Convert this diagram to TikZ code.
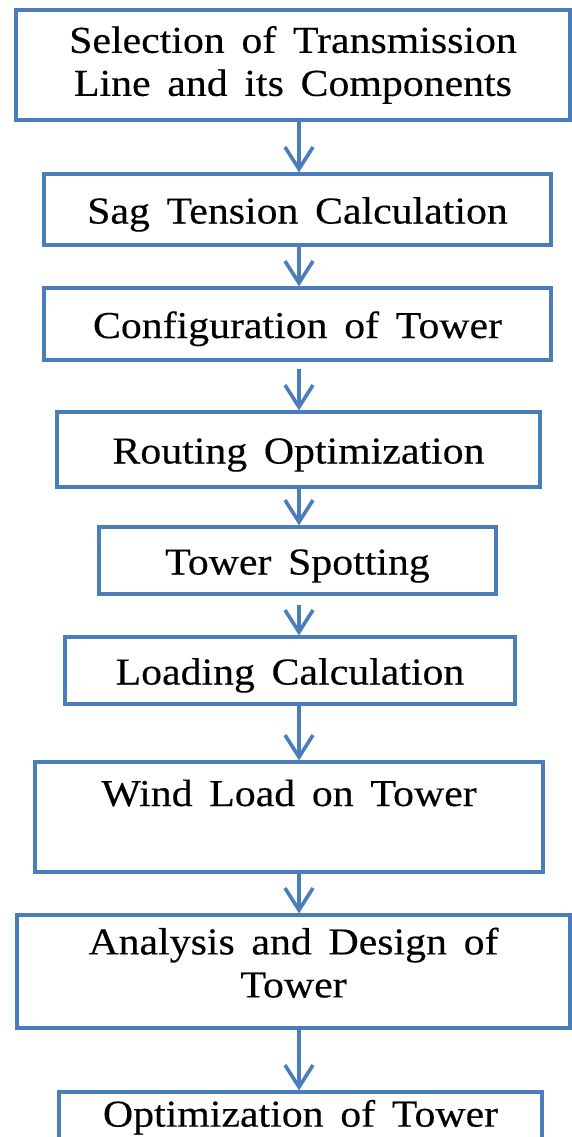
\documentclass[tikz,border=0pt]{standalone}
\usepackage{fontspec}
\setmainfont{Liberation Serif}[FakeStretch=1.1,WordSpace=1.6,FakeBold=0.3]
\usetikzlibrary{arrows.meta}
\definecolor{lineblue}{HTML}{4A7EBB}

\begin{document}
\begin{tikzpicture}[x=0.5pt,y=-0.5pt,
  stage/.style={rectangle,draw=lineblue,line width=1.6pt,inner sep=0pt,
    align=center,font=\fontsize{19}{21.5}\selectfont},
  stage line/.style={stage,text height=14pt,text depth=0pt},
  flow/.style={color=lineblue,line width=1.8pt,
    -{Straight Barb[length=11pt,width=14pt]}}]

  \useasboundingbox (0,0) rectangle (572,1137);
  \coordinate (axis) at (299,0);

  \node[stage,minimum width=277pt,minimum height=55pt] (sel) at (293,65)
    {Selection of Transmission\\Line and its Components};
  \node[stage line,minimum width=253.5pt,minimum height=35.5pt] (sag) at (297.5,209.5)
    {Sag Tension Calculation};
  \node[stage line,minimum width=253.5pt,minimum height=36pt] (conf) at (297.5,324)
    {Configuration of Tower};
  \node[stage line,minimum width=241.5pt,minimum height=37.5pt] (route) at (298.5,449.5)
    {Routing Optimization};
  \node[stage line,minimum width=198.5pt,minimum height=33.5pt] (spot) at (297.5,560.5)
    {Tower Spotting};
  \node[stage line,minimum width=225pt,minimum height=33.5pt] (load) at (290,670.5)
    {Loading Calculation};
  \node[stage line,text depth=25pt,minimum width=254pt,minimum height=55pt] (wind) at (289,817)
    {Wind Load on Tower};
  \node[stage,text depth=9pt,minimum width=276.5pt,minimum height=56.5pt] (design) at (293.5,971.5)
    {Analysis and Design of\\Tower};
  \node[stage line,text depth=13.4pt,minimum width=241.5pt,minimum height=34pt] (opt) at (300.5,1126)
    {Optimization of Tower};

  \path[flow]
    (sel.south -| axis) edge (sag.north -| axis)
    (sag.south -| axis) edge (conf.north -| axis)
    (conf.south -| axis) edge[shorten <=3.5pt] (route.north -| axis)
    (route.south -| axis) edge (spot.north -| axis)
    (spot.south -| axis) edge[shorten <=4.5pt] (load.north -| axis)
    (load.south -| axis) edge (wind.north -| axis)
    (wind.south -| axis) edge (design.north -| axis)
    (design.south -| axis) edge (opt.north -| axis);
\end{tikzpicture}
\end{document}
